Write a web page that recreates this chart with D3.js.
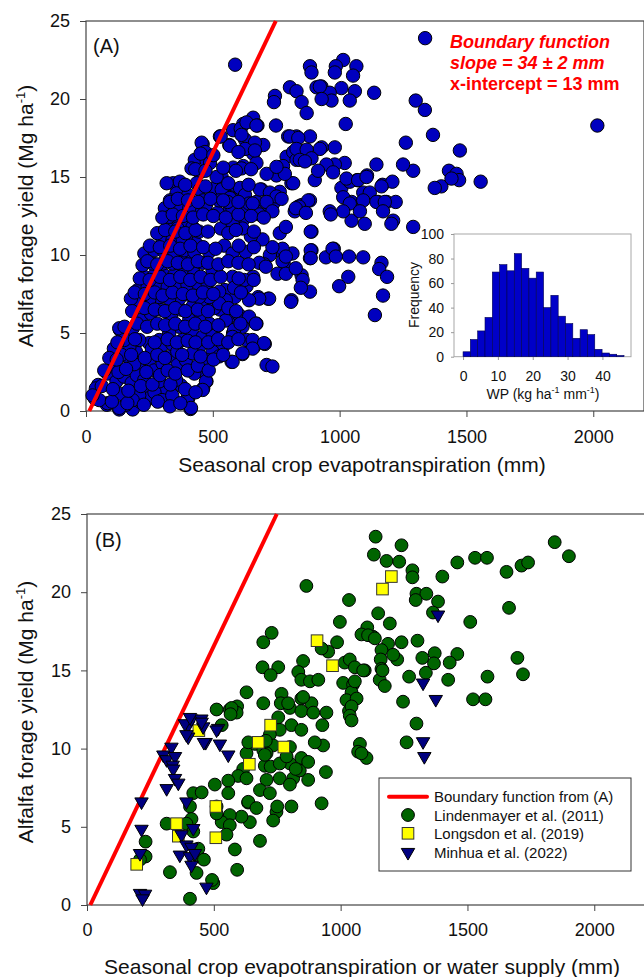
<!DOCTYPE html>
<html><head><meta charset="utf-8">
<script src="https://cdn.jsdelivr.net/npm/d3@7"></script>
<style>
body{margin:0;background:#fff}
svg{display:block;font-family:"Liberation Sans",Arial,Helvetica,sans-serif}
</style>
</head><body>
<svg id="chart" width="644" height="977"></svg>
<script>
// ---------- DATA ----------
// Panel A: seasonal ET (mm) vs alfalfa forage yield (Mg/ha)
const panelAPoints = [
[1337,23.9],[2016,18.3],[1014,22.5],[985,22.1],[1066,22.1],[981,21.7],[1053,21.5],[928,20.8],[1007,20.7],[1060,20.5],[961,20.4],[1040,19.9],[968,19.9],[1136,20.4],[1300,19.9],[1336,19.3],[1024,18.4],[1261,17.2],[1368,17.7],[1474,16.7],[1556,14.7],[1431,15.4],[1461,15.2],[1471,14.8],[1401,14.4],[1375,14.3],[1441,14.9],[1290,15.4],[1250,15.8],[1145,15.8],[1108,15.1],[1069,14.8],[1020,15.9],[981,16.9],[929,16.9],[981,15.8],[948,15.8],[974,15.3],[1007,14.3],[1040,14.7],[1093,14.0],[1119,14.0],[1169,14.5],[1208,14.7],[1152,13.4],[1185,13.4],[1221,13.4],[1047,13.4],[961,12.8],[1211,12.2],
[1047,12.2],[1099,12.0],[1204,12.0],[1290,11.8],[977,10.4],[946,9.85],[1037,9.9],[1093,9.85],[1165,9.5],[1156,9.1],[1187,8.6],[1034,8.6],[998,8.0],[1171,7.4],[1139,6.15],
[889,11.5],[889,10.3],[883,9.8],[883,7.65],[810,7.1],[718,7.2],[679,7.3],[751,10.3],[725,10.0],[850,8.7],[797,9.1],[775,9.6],[764,11.4],[699,12.6],[703,9.4],[659,8.6],[633,8.0],[705,4.3],[672,5.6],[639,6.0],[712,2.95],[735,2.85],[617,3.65],[574,3.15],[633,4.55],[662,4.1],[412,0.13],[403,0.8],[475,1.9],[462,1.45],[580,5.0],[561,5.95],[528,6.5],[587,7.3],[548,7.75],
[35,0.8],[48,1.67],[82,0.4],[131,0.1],[184,0.1],[95,2.45],[134,5.2],[160,4.8],[213,0.6],[245,0.77],[243,1.24],
[588,22.2],[528,17.6],[565,17.05],[460,17.1],[429,16.1],[482,16.1],[344,14.6],[370,14.7],[315,12.9],[528,14.9],[544,14.05],[580,15.6],[620,15.7],[627,17.4],[672,17.05],[699,17.05],[659,16.5],[672,15.9],[580,18.0],[620,18.4],[659,18.8],[676,18.3],[610,18.1],[745,20.2],[741,19.8],[749,18.3],[804,20.75],[830,20.5],[850,19.8],[870,19.1],[883,22.1],[889,21.7],[909,20.75],[797,17.6],[830,17.6],[883,17.6],[791,16.3],[817,16.6],[830,16.1],[870,16.1],[777,15.7],[751,15.1],[712,15.2],[692,14.2],[764,14.05],[810,14.6],[902,14.8],[883,13.5],[837,13.1],[738,13.3],[646,13.3],[596,14.2],[567,13.7],
[922,20.8],[929,20.0],[633,18.5],[672,18.3],[613,17.7],[567,17.0],[531,17.6],[666,17.2],[627,16.8],[666,16.7],[804,17.6],[837,17.5],[922,16.8],[830,16.8],[870,16.75],[843,16.1],[889,16.2],[863,16.0],[915,15.4],[817,14.6],[784,15.2],[751,15.65],[613,15.55],[535,15.0],[521,14.4],[554,13.7],[607,14.3],[627,13.85],[627,13.2],[672,13.4],[686,14.2],[725,14.0],[751,13.75],[771,13.6],[712,13.4],[672,12.8],[620,12.7],[567,13.0],[823,12.8],[850,13.2],[876,13.5],[1027,14.9],[1073,14.8],[1106,15.0],[1014,13.7],[1040,13.3],[1093,13.5],[1165,14.4],[1145,13.4],[1178,13.4],[1171,12.8],[1080,12.8],[1014,12.8],[456,17.2],[469,16.6],[476,16.0],[416,15.55],[449,15.3],[489,15.9],[436,14.6],[357,13.95],[403,13.85],[449,14.2],[311,13.0],[351,13.0],[383,13.4],[429,13.2],[462,13.5],[508,14.3],[515,15.0],[535,14.2],[567,13.65],[318,14.6],[331,13.5],
[355,12.6],[348,12.0],[394,12.2],[433,12.9],[473,13.2],[519,12.7],[532,11.7],[578,12.9],[617,12.2],[643,13.3],[683,12.6],[735,12.8],[788,11.8],[840,13.1],[886,11.5],[965,12.6],[972,10.4],[886,10.3],[886,9.8],[814,10.1],[775,10.4],[788,9.9],[735,10.5],[696,11.0],[650,11.2],[617,11.7],[578,12.0],[545,10.6],[578,10.1],[630,10.2],[683,9.5],[709,9.25],[755,8.8],[788,8.8],[827,9.15],[854,8.4],[847,7.9],[808,7.0],[722,7.2],[683,7.2],[643,7.1],[624,8.4],[578,8.6],[584,7.9],[551,7.1],[525,7.65],[499,9.0],[460,9.5],[486,10.2],[433,10.75],[394,11.2],[446,11.5],[551,5.8],[604,6.15],[643,6.05],[670,5.6],[617,5.4],[584,5.2],[578,4.75],[657,4.55],[702,4.35],[657,4.0],[617,3.7],[578,3.15],[539,4.1],[499,3.8],[525,3.5],[479,3.25],[446,4.1],[453,2.6],[427,2.4],[473,1.9],[460,1.35],[400,0.8],[414,0.2],[374,1.65],[355,2.0],[315,1.35],[289,1.9],[243,0.8],[210,1.0],[184,0.7],[158,0.4],[131,0.2],[138,1.1],[85,0.5],[52,0.7],[39,1.45],[26,1.0],[85,2.4],[112,2.95],[131,5.3],[164,3.5],[197,3.8],[217,2.85],[249,3.25],[269,2.6],[302,3.05],[335,3.5],[361,2.95],[394,3.25],[420,3.7],[381,4.55],[420,5.0],[460,4.75],[499,5.0],[486,5.6],[446,5.85],[407,5.85],[368,5.4],[328,5.0],[289,4.55],[249,4.35],[210,4.55],[171,4.1],[151,4.55],[184,5.3],[217,5.85],[256,6.25],[295,6.5],[335,6.15],[374,6.5],[420,6.7],[460,6.7],[506,6.6],[525,6.9],[486,7.3],[446,7.3],[407,7.45],[368,7.2],[328,7.2],[289,7.3],[249,7.1],[210,7.1],[177,7.2],[204,7.75],[243,7.95],[283,8.1],[322,7.95],[361,7.95],[400,8.1],[440,8.2],[479,8.2],[230,8.6],[269,8.7],[308,8.7],[348,8.7],[387,8.8],[427,8.8],[223,9.35],[263,9.45],[302,9.45],[341,9.45],[381,9.55],[420,9.7],[230,10.1],[269,10.3],[308,10.2],[348,10.2],[387,10.3],[427,10.2],[302,10.95],[341,10.95],[381,11.05],[322,11.7],[361,11.7],[420,11.8],[328,12.45],[368,13.1],[407,13.0],[525,13.5],[558,13.4],[657,13.3],[827,13.0],[867,12.7],[985,9.9],
[120,1.9],[150,2.2],[180,1.8],[200,2.3],[230,2.0],[190,3.0],[140,3.6],[110,4.0],[270,1.2],[300,0.7],[340,1.0],[260,4.0],[300,4.2],[340,4.3],[360,3.8],
[102,0.6],[163,0.5],[228,0.4],[283,0.6],[331,0.3],[372,0.5],
[62,1.6],[106,1.4],[167,1.3],[216,1.6],[262,1.7],[333,1.7],[391,1.4],[432,1.2],
[72,2.6],[128,2.5],[158,2.7],[238,2.5],[292,2.3],[322,2.6],[352,2.4],[401,2.6],[441,2.9],[484,2.6],
[92,3.4],[121,3.3],[178,3.6],[232,3.4],[281,3.6],[311,3.4],[379,3.6],[452,3.5],[503,3.3],[541,3.6],
[124,4.4],[193,4.6],[271,4.4],[322,4.6],[358,4.4],[401,4.5],[432,4.4],[482,4.4],[521,4.6],[561,4.4],[601,4.6],
[152,5.4],[201,5.6],[241,5.4],[281,5.6],[312,5.5],[352,5.6],[391,5.4],[431,5.6],[471,5.4],[522,5.5],[609,5.6],
[182,6.4],[231,6.6],[271,6.5],[311,6.4],[352,6.6],[392,6.4],[441,6.5],[481,6.4],[561,6.6],[592,6.4],
[192,7.6],[232,7.5],[271,7.6],[302,7.4],[341,7.6],[382,7.5],[421,7.4],[461,7.6],[502,7.5],[611,7.6],
[212,8.5],[251,8.4],[292,8.6],[331,8.4],[372,8.6],[411,8.4],[452,8.6],[491,8.4],[531,8.6],[602,8.5],[661,8.4],
[242,9.6],[281,9.4],[322,9.6],[362,9.5],[402,9.4],[441,9.6],[481,9.5],[522,9.4],[561,9.6],[601,9.5],[641,9.4],
[252,10.6],[291,10.5],[332,10.6],[371,10.4],[412,10.6],[462,10.5],[511,10.4],[602,10.6],[662,10.5],
[281,11.4],[312,11.6],[352,11.5],[392,11.4],[432,11.6],[481,11.5],[561,11.4],[591,11.6],[662,11.5],
[301,12.4],[342,12.6],[382,12.5],[422,12.4],[462,12.6],[502,12.5],[551,12.4],[601,12.6],[651,12.5],[701,12.4],
[332,13.4],[362,13.6],[402,13.5],[442,13.4],[491,13.6],[541,13.5],[601,13.4],
[391,14.5],[471,14.4],[561,14.6],[641,14.5],
[431,15.5],[471,15.4],[541,15.6],[591,15.4],[651,15.5],
[452,16.5],[502,16.4],[601,16.6]
];

// Inset histogram of WP (kg ha-1 mm-1)
const wpBinStart = [0,2.1,4.2,6.3,8.4,10.5,12.6,14.7,16.8,18.9,21,23.1,25.2,27.3,29.4,31.5,33.6,35.7,37.8,39.9,42,44.1];
const wpBinWidth = 2.1;
const wpFrequency = [4,14,21,32,69,75,70,84,72,64,69,40,50,33,27,15,22,18,6,3,2,1];

// Boundary function
const boundarySlope = 0.034;   // Mg ha-1 per mm (34 kg ha-1 mm-1)
const boundaryXIntercept = 13; // mm

// Panel B datasets
const lindenmayer = [
[865,20.4],[695,16.8],[728,17.4],[692,15.2],[754,15.2],[724,14.7],[629,13.6],[852,15.6],[833,14.9],[845,14.4],[879,14.3],[912,14.4],[695,12.9],[767,13.5],[764,12.9],[800,12.6],[845,13.2],[885,12.9],[845,12.4],[563,12.5],[592,12.7],[511,12.5],[754,12.0],
[1138,23.55],[1240,23.0],[1131,22.4],[1181,22.0],[1231,21.95],[1283,21.4],[1283,20.95],[1401,21.0],[1460,21.9],[1530,22.2],[1577,22.2],[1654,21.3],[1713,21.7],[1739,21.9],[1844,23.2],[1900,22.3],[1664,19.0],[1033,19.5],[1299,19.9],[1338,19.9],[1296,19.5],[1384,19.4],[1364,18.7],[1148,18.65],[1194,18.0],[997,18.1],[1511,18.1],[1105,17.75],[1082,17.3],[1128,17.15],[1187,16.7],[1240,16.8],[1303,16.9],[986,16.8],[951,16.2],[925,16.4],[1161,16.3],[1371,16.1],[1460,16.05],[1430,15.5],[1322,15.8],[1016,15.5],[1036,15.7],[1158,15.7],[1223,15.7],[1056,15.2],[1161,15.1],[1154,14.4],[1174,14.0],[1095,15.0],[1010,14.2],[1049,14.1],[1043,13.6],[1023,13.1],[1063,13.2],[944,12.3],[1033,12.4],[1270,14.6],[1336,14.85],[1368,15.45],[1424,14.4],[1246,13.0],[1522,13.15],[1571,13.15],[1579,14.6],[1697,15.8],[1719,14.75],[1108,17.25],[1135,17.05],[1207,16.0],[1165,15.0],[1056,14.3],[1089,15.0],[1043,12.7],[852,13.3],
[1299,11.6],[1260,10.4],[928,11.5],[1036,12.1],[1043,11.8],[1076,10.3],[1069,9.8],[1102,9.4],[931,10.2],[942,8.5],[925,6.5],[1082,9.7],
[590,12.3],[531,11.5],[793,12.9],[892,12.3],[806,11.5],[845,11.2],[760,11.2],[721,10.9],[898,10.4],[662,10.3],[695,9.9],[734,10.2],[629,9.7],[708,9.7],[800,10.1],[845,9.4],[800,9.05],[701,8.9],[616,8.7],[596,8.25],[557,7.95],[504,7.7],[557,7.15],[708,8.0],[760,8.1],[813,8.1],[839,8.6],[872,8.0],[800,7.7],[806,6.3],[635,6.55],[747,5.95],[734,5.4],[642,5.3],[609,5.65],[563,5.75],[531,5.3],[563,5.1],[550,4.5],[583,3.55],[592,2.25],[682,4.1],[498,1.4],[419,7.15],[452,7.2],[406,6.3],[412,5.5],[511,6.3],[511,5.85],[314,5.2],[327,2.1],[432,2.05],[406,0.4],[231,4.05],[231,3.1],[209,2.9],[439,3.1],[439,3.6],[392,5.2],[419,4.7],
[570,12.6],[566,12.2],[724,8.85],[701,9.6],[760,9.05],[787,9.5],[823,8.7],[629,8.1],[705,10.5],[872,9.15],[636,10.4],[636,6.6],[668,6.2],[750,6.3],[682,7.35],[721,7.15],[493,1.6],[461,2.9]
];
const longsdon = [[1200,21.0],[1165,20.2],[907,16.9],[968,15.3],[724,11.5],[675,10.4],[776,10.1],[640,9.0],[508,6.3],[441,11.15],[353,5.2],[360,4.4],[508,4.3],[196,2.6]];
const minhua = [[215,6.6],[215,4.85],[209,3.3],[209,0.75],[229,0.7],[219,0.4],[301,9.6],[314,9.3],[333,10.1],[347,9.5],[338,8.95],[340,8.7],[347,8.1],[360,7.8],[314,7.45],[392,6.6],[399,11.5],[386,11.6],[412,11.9],[451,11.9],[458,11.4],[399,10.75],[468,10.4],[517,11.3],[524,10.3],[557,9.6],[373,4.5],[392,3.85],[419,4.9],[412,3.7],[366,3.2],[406,3.1],[426,3.3],[412,2.55],[471,1.15],[406,12.0],[452,11.7],[511,11.2],[392,10.9],[461,10.4],[1384,18.55],[1325,14.2],[1375,13.15],[1325,10.45],[1330,9.5]];

const xTickValues = [0,500,1000,1500,2000];
const yTickValues = [0,5,10,15,20,25];
const histXTicks = [0,10,20,30,40];
const histYTicks = [0,20,40,60,80,100];
const legendLabels = ["Boundary function from (A)","Lindenmayer et al. (2011)","Longsdon et al. (2019)","Minhua et al. (2022)"];
const annotationLines = ["Boundary function","slope = 34 \u00b1 2 mm","x-intercept = 13 mm"];

// ---------- DRAW ----------
const svg = d3.select("#chart");
const BLUE = "#0000bf", GREEN = "#006400", YELLOW = "#ffff00", NAVY = "#000080", RED = "#ff0000";

function styleAxis(g, fs){
  g.select(".domain").remove();
  g.selectAll(".tick line").attr("stroke","#444").attr("stroke-width",1);
  g.selectAll(".tick text").attr("fill","#111").style("font-size",fs+"px");
}
function yTitle(x, y){
  const t = svg.append("text").attr("transform",`translate(${x},${y}) rotate(-90)`)
    .attr("text-anchor","middle").style("font-size","21px").attr("fill","#111");
  t.append("tspan").text("Alfalfa forage yield (Mg ha");
  t.append("tspan").text("-1").style("font-size","13px").attr("dy",-8);
  t.append("tspan").text(")").attr("dy",8);
}
function boundaryLine(xs, ys){
  const yTop = 25;
  const pts = [[boundaryXIntercept,0],[boundaryXIntercept + yTop/boundarySlope, yTop]];
  return d3.line().x(d=>xs(d[0])).y(d=>ys(d[1]))(pts);
}

// ===== Panel A =====
const xA = d3.scaleLinear().domain([0,2200]).range([86,644]);
const yA = d3.scaleLinear().domain([0,25]).range([411,21]);

svg.append("rect").attr("x",86).attr("y",21).attr("width",558).attr("height",390)
  .attr("fill","none").attr("stroke","#444").attr("stroke-width",1.2);

const gxA = svg.append("g").attr("transform","translate(0,411)")
  .call(d3.axisBottom(xA).tickValues(xTickValues).tickSize(6).tickPadding(13).tickFormat(d3.format("d")));
styleAxis(gxA,18);
const gyA = svg.append("g").attr("transform","translate(86,0)")
  .call(d3.axisLeft(yA).tickValues(yTickValues).tickSize(6).tickPadding(10));
styleAxis(gyA,18);

svg.append("g").selectAll("circle").data(panelAPoints).join("circle")
  .attr("cx",d=>xA(d[0])).attr("cy",d=>yA(d[1])).attr("r",6.7)
  .attr("fill",BLUE).attr("stroke","#000").attr("stroke-width",1);

svg.append("path").attr("d",boundaryLine(xA,yA)).attr("stroke",RED).attr("stroke-width",4).attr("fill","none");

svg.append("text").attr("x",93).attr("y",53).style("font-size","20px").attr("fill","#111").text("(A)");

svg.append("g").selectAll("text").data(annotationLines).join("text")
  .attr("x",450).attr("y",(d,i)=>48+i*21)
  .style("font-size","18px").style("font-weight","bold")
  .style("font-style",(d,i)=>i<2?"italic":"normal")
  .attr("fill",RED).text(d=>d);

yTitle(33,216);
svg.append("text").attr("x",362).attr("y",472).attr("text-anchor","middle")
  .style("font-size","21px").attr("fill","#111").text("Seasonal crop evapotranspiration (mm)");

// Inset histogram
const xH = d3.scaleLinear().domain([-2.6,48.2]).range([454,631]);
const yH = d3.scaleLinear().domain([0,100]).range([356.7,234]);
svg.append("rect").attr("x",454).attr("y",234).attr("width",177).attr("height",122.7)
  .attr("fill","#fff").attr("stroke","#a8a8a8").attr("stroke-width",1);
svg.append("g").selectAll("rect").data(wpFrequency).join("rect")
  .attr("x",(d,i)=>xH(wpBinStart[i])).attr("width",(d,i)=>xH(wpBinStart[i]+wpBinWidth)-xH(wpBinStart[i]))
  .attr("y",d=>yH(d)).attr("height",d=>yH(0)-yH(d))
  .attr("fill","#0000c8").attr("stroke","#000050").attr("stroke-width",0.6);
const gxH = svg.append("g").attr("transform","translate(0,357)")
  .call(d3.axisBottom(xH).tickValues(histXTicks).tickSize(3).tickPadding(11));
styleAxis(gxH,14);
gxH.selectAll(".tick line").attr("stroke","#999");
const gyH = svg.append("g").attr("transform","translate(454,0)")
  .call(d3.axisLeft(yH).tickValues(histYTicks).tickSize(3).tickPadding(7));
styleAxis(gyH,14);
gyH.selectAll(".tick line").attr("stroke","#999");
svg.append("text").attr("transform","translate(419,295) rotate(-90)").attr("text-anchor","middle")
  .style("font-size","14px").attr("fill","#111").text("Frequency");
const wpT = svg.append("text").attr("x",543).attr("y",399).attr("text-anchor","middle")
  .style("font-size","14px").attr("fill","#111");
wpT.append("tspan").text("WP (kg ha");
wpT.append("tspan").text("-1").style("font-size","9px").attr("dy",-6);
wpT.append("tspan").text(" mm").attr("dy",6);
wpT.append("tspan").text("-1").style("font-size","9px").attr("dy",-6);
wpT.append("tspan").text(")").attr("dy",6);

// ===== Panel B =====
const xB = d3.scaleLinear().domain([0,2200]).range([87,645]);
const yB = d3.scaleLinear().domain([0,25]).range([905,514]);

svg.append("rect").attr("x",87).attr("y",514).attr("width",558).attr("height",391)
  .attr("fill","none").attr("stroke","#444").attr("stroke-width",1.2);
const gxB = svg.append("g").attr("transform","translate(0,905)")
  .call(d3.axisBottom(xB).tickValues(xTickValues).tickSize(6).tickPadding(12).tickFormat(d3.format("d")));
styleAxis(gxB,18);
const gyB = svg.append("g").attr("transform","translate(87,0)")
  .call(d3.axisLeft(yB).tickValues(yTickValues).tickSize(6).tickPadding(10));
styleAxis(gyB,18);

svg.append("path").attr("d",boundaryLine(xB,yB)).attr("stroke",RED).attr("stroke-width",4).attr("fill","none");

svg.append("g").selectAll("circle").data(lindenmayer).join("circle")
  .attr("cx",d=>xB(d[0])).attr("cy",d=>yB(d[1])).attr("r",6.4)
  .attr("fill",GREEN).attr("stroke","#000").attr("stroke-width",1);
svg.append("g").selectAll("rect").data(longsdon).join("rect")
  .attr("x",d=>xB(d[0])-5.8).attr("y",d=>yB(d[1])-5.8).attr("width",11.6).attr("height",11.6)
  .attr("fill",YELLOW).attr("stroke","#333").attr("stroke-width",1);
const triPath = d3.symbol().type(d3.symbolTriangle).size(78)();
svg.append("g").selectAll("path").data(minhua).join("path")
  .attr("d",triPath).attr("transform",d=>`translate(${xB(d[0])},${yB(d[1])}) rotate(180)`)
  .attr("fill",NAVY).attr("stroke","#000").attr("stroke-width",1);

svg.append("text").attr("x",95).attr("y",547).style("font-size","20px").attr("fill","#111").text("(B)");
yTitle(33,712);
svg.append("text").attr("x",362).attr("y",974).attr("text-anchor","middle")
  .style("font-size","21px").attr("fill","#111").text("Seasonal crop evapotranspiration or water supply (mm)");

// Legend
const lg = svg.append("g");
lg.append("rect").attr("x",379).attr("y",778).attr("width",252).attr("height",93)
  .attr("fill","#fff").attr("stroke","#333").attr("stroke-width",1);
const rowY = [796.7,815,833.3,852.3];
lg.append("line").attr("x1",389).attr("x2",427).attr("y1",rowY[0]).attr("y2",rowY[0])
  .attr("stroke",RED).attr("stroke-width",4).attr("stroke-linecap","round");
lg.append("circle").attr("cx",408).attr("cy",rowY[1]).attr("r",6.4).attr("fill",GREEN).attr("stroke","#000");
lg.append("rect").attr("x",408-5.8).attr("y",rowY[2]-5.8).attr("width",11.6).attr("height",11.6).attr("fill",YELLOW).attr("stroke","#333");
lg.append("path").attr("d",triPath).attr("transform",`translate(408,${rowY[3]}) rotate(180)`).attr("fill",NAVY).attr("stroke","#000");
lg.selectAll("text").data(legendLabels).join("text")
  .attr("x",434).attr("y",(d,i)=>rowY[i]+5.5).style("font-size","15px").attr("fill","#111").text(d=>d);
</script>
</body></html>
